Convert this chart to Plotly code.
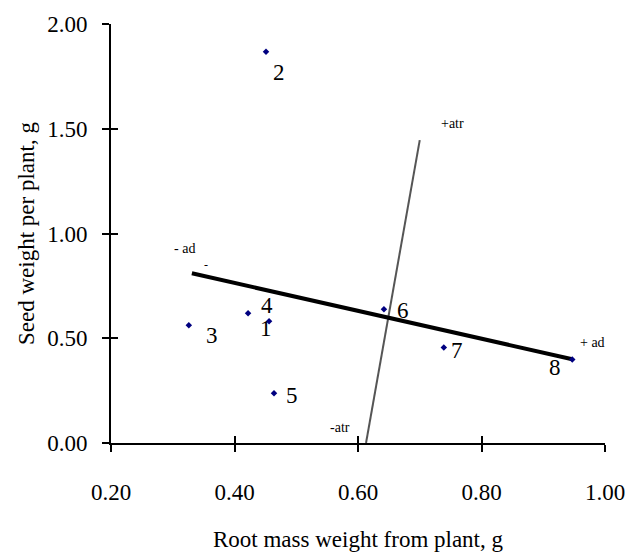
import plotly.graph_objects as go

# ---- data ----
point_labels = ["1", "2", "3", "4", "5", "6", "7", "8"]
root_mass = [0.422, 0.451, 0.326, 0.456, 0.464, 0.642, 0.739, 0.947]
seed_weight = [0.619, 1.867, 0.562, 0.581, 0.237, 0.638, 0.456, 0.399]

ad_x = [0.331, 0.947]
ad_y = [0.810, 0.400]
atr_x = [0.613, 0.700]
atr_y = [0.000, 1.446]

x_ticks = [0.2, 0.4, 0.6, 0.8, 1.0]
y_ticks = [0.0, 0.5, 1.0, 1.5, 2.0]

# ---- styling (pixel offsets for labels) ----
label_shift = [(18, -15), (13, -21), (23, -10), (-2, 16), (18, -2), (19, -1), (13, -3), (-17, -8)]
FONT = "Liberation Serif, Times New Roman, serif"

fig = go.Figure()

fig.add_trace(go.Scatter(x=atr_x, y=atr_y, mode="lines",
                         line=dict(color="#555555", width=2), showlegend=False))
fig.add_trace(go.Scatter(x=ad_x, y=ad_y, mode="lines",
                         line=dict(color="black", width=4), showlegend=False))
fig.add_trace(go.Scatter(x=root_mass, y=seed_weight, mode="markers",
                         marker=dict(color="#000080", size=5, symbol="diamond"),
                         showlegend=False, cliponaxis=False))

for lab, xv, yv, (dx, dy) in zip(point_labels, root_mass, seed_weight, label_shift):
    fig.add_annotation(x=xv, y=yv, text=lab, showarrow=False, xshift=dx, yshift=dy,
                       font=dict(family=FONT, size=23, color="black"))

end_labels = [
    ("- ad", ad_x[0], ad_y[0], -7, 25),
    ("+ ad", ad_x[1], ad_y[1], 20, 17),
    ("+atr", atr_x[1], atr_y[1], 33, 17),
    ("-atr", atr_x[0], atr_y[0], -26, 16),
]
for txt, xv, yv, dx, dy in end_labels:
    fig.add_annotation(x=xv, y=yv, text=txt, showarrow=False, xshift=dx, yshift=dy,
                       font=dict(family=FONT, size=14, color="black"))
# small dash at the start of the ad line
fig.add_annotation(x=ad_x[0], y=ad_y[0], text="-", showarrow=False, xshift=14, yshift=8,
                   font=dict(family=FONT, size=12, color="black"))

axis_common = dict(showgrid=False, zeroline=False, linecolor="black", linewidth=2,
                   tickcolor="black", tickwidth=2, ticklen=7, tickformat=".2f",
                   automargin=False,
                   tickfont=dict(family=FONT, size=23, color="black"))

fig.update_layout(
    width=626, height=552,
    margin=dict(l=111, r=21, t=24, b=109),
    plot_bgcolor="white", paper_bgcolor="white",
    xaxis=dict(range=[0.2, 1.0], tickvals=x_ticks, ticks="outside", showline=True,
               ticklabelstandoff=20,
               title=dict(text="Root mass weight from plant, g", standoff=34,
                          font=dict(family=FONT, size=23, color="black")),
               **axis_common),
    yaxis=dict(range=[0.0, 2.0], tickvals=y_ticks, ticks="outside", showline=True,
               ticklabelstandoff=10,
               title=dict(text="Seed weight per plant, g", standoff=6,
                          font=dict(family=FONT, size=23, color="black")),
               **axis_common),
    xaxis2=dict(range=[0.2, 1.0], tickvals=x_ticks, ticks="inside", overlaying="x",
                showticklabels=False, showline=False, showgrid=False, zeroline=False,
                automargin=False,
                tickcolor="black", tickwidth=2, ticklen=7, side="bottom"),
    yaxis2=dict(range=[0.0, 2.0], tickvals=y_ticks, ticks="inside", overlaying="y",
                showticklabels=False, showline=False, showgrid=False, zeroline=False,
                automargin=False,
                tickcolor="black", tickwidth=2, ticklen=7, side="left"),
)
# invisible trace to activate overlay axes
fig.add_trace(go.Scatter(x=[0.2], y=[0.0], xaxis="x2", yaxis="y2", mode="markers",
                         marker=dict(opacity=0), showlegend=False, hoverinfo="skip"))

fig.write_html("out.html")
